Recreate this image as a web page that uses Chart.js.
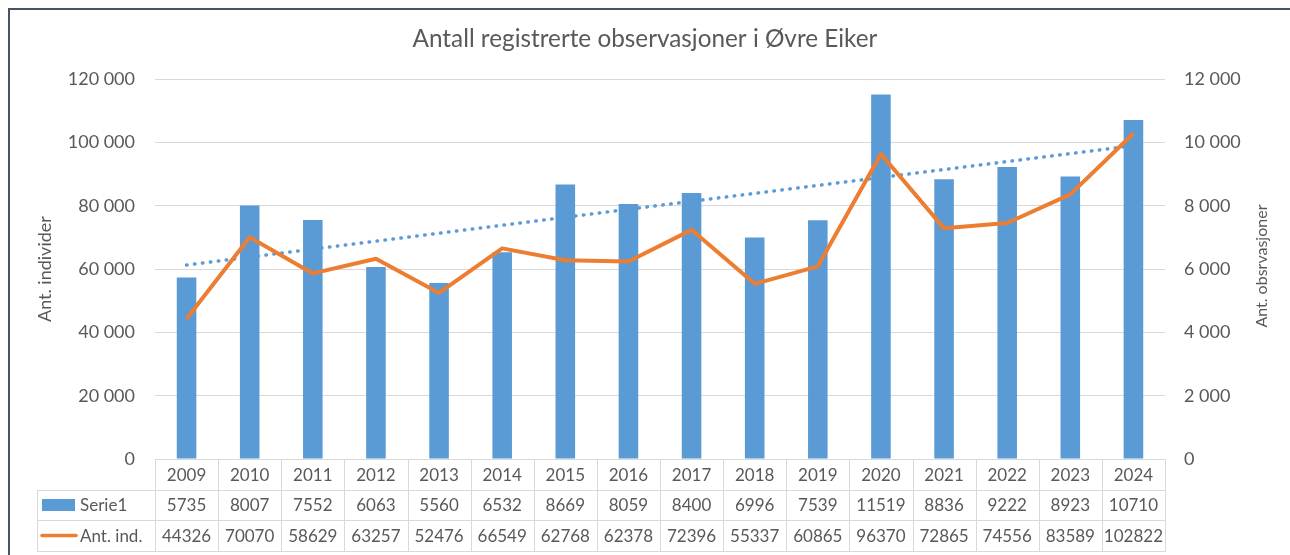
<!DOCTYPE html>
<html>
<head>
<meta charset="utf-8">
<script src="https://cdn.jsdelivr.net/npm/chart.js@4.4.1/dist/chart.umd.min.js"></script>
<style>
  html, body { margin: 0; padding: 0; background: #fff; }
  #wrap { width: 1290px; height: 555px; position: relative; }
</style>
</head>
<body>
<div id="wrap"><canvas id="myChart"></canvas></div>
<script>
const years = ["2009", "2010", "2011", "2012", "2013", "2014", "2015", "2016",
  "2017", "2018", "2019", "2020", "2021", "2022", "2023", "2024"];
const serie1 = [5735, 8007, 7552, 6063, 5560, 6532, 8669, 8059,
  8400, 6996, 7539, 11519, 8836, 9222, 8923, 10710];
const antInd = [44326, 70070, 58629, 63257, 52476, 66549, 62768, 62378,
  72396, 55337, 60865, 96370, 72865, 74556, 83589, 102822];
// linear trendline of Serie1 at both ends
const trend = [6130, null, null, null, null, null, null, null,
  null, null, null, null, null, null, null, 9900];

const textColor = "#595959";
const gridColor = "#D9D9D9";
const blue = "#5B9BD5";
const orange = "#ED7D31";

Chart.defaults.font.family = "Lato";
Chart.defaults.color = textColor;

const fmt = (v) => String(v).replace(/\B(?=(\d{3})+(?!\d))/g, " ");

// frame, right axis title and the data table below the plot
const extras = {
  id: "extras",
  beforeDraw(chart) {
    const { ctx, width, height } = chart;
    ctx.save();
    ctx.fillStyle = "#fff";
    ctx.fillRect(0, 0, width, height);
    ctx.restore();
  },
  afterDraw(chart) {
    const { ctx, chartArea, scales } = chart;
    const x = scales.x;
    const colW = (chartArea.right - chartArea.left) / years.length;
    const r0 = chartArea.bottom;
    const rows = [r0, r0 + 30.5, r0 + 61, r0 + 91.5];
    const legLeft = 37;

    ctx.save();
    ctx.strokeStyle = gridColor;
    ctx.lineWidth = 1;
    ctx.beginPath();
    ctx.moveTo(chartArea.left, Math.round(rows[0]) + 0.5);
    ctx.lineTo(chartArea.right, Math.round(rows[0]) + 0.5);
    for (let i = 1; i < rows.length; i++) {
      ctx.moveTo(legLeft, Math.round(rows[i]) + 0.5);
      ctx.lineTo(chartArea.right, Math.round(rows[i]) + 0.5);
    }
    ctx.moveTo(legLeft + 0.5, Math.round(rows[1]));
    ctx.lineTo(legLeft + 0.5, Math.round(rows[3]) + 1);
    for (let i = 0; i <= years.length; i++) {
      const px = Math.round(x.getPixelForValue(i) - colW / 2) + 0.5;
      ctx.moveTo(px, Math.round(rows[0]));
      ctx.lineTo(px, Math.round(rows[3]) + 1);
    }
    ctx.stroke();

    ctx.fillStyle = textColor;
    ctx.font = "17px Lato";
    ctx.textAlign = "center";
    ctx.textBaseline = "middle";
    years.forEach((y, i) => {
      const cx = x.getPixelForValue(i);
      ctx.fillText(y, cx, (rows[0] + rows[1]) / 2 + 1);
      ctx.fillText(String(serie1[i]), cx, (rows[1] + rows[2]) / 2 + 1);
      ctx.fillText(String(antInd[i]), cx, (rows[2] + rows[3]) / 2 + 1);
    });

    // legend keys
    ctx.fillStyle = blue;
    ctx.fillRect(42, 499, 33, 12);
    ctx.strokeStyle = orange;
    ctx.lineWidth = 3.5;
    ctx.lineCap = "round";
    ctx.beginPath();
    ctx.moveTo(42, 535.5);
    ctx.lineTo(76, 535.5);
    ctx.stroke();
    ctx.fillStyle = textColor;
    ctx.textAlign = "left";
    ctx.fillText("Serie1", 80, (rows[1] + rows[2]) / 2 + 1);
    ctx.fillText("Ant. ind.", 80, (rows[2] + rows[3]) / 2 + 1);

    // right axis title, reading bottom to top
    ctx.translate(1262, (chartArea.top + chartArea.bottom) / 2 - 3);
    ctx.rotate(-Math.PI / 2);
    ctx.font = "16px Lato";
    ctx.textAlign = "center";
    ctx.fillText("Ant. obsrvasjoner", 0, 0);
    ctx.restore();

    // frame
    ctx.save();
    ctx.strokeStyle = "#44546A";
    ctx.lineWidth = 2;
    ctx.beginPath();
    ctx.moveTo(9, chart.height);
    ctx.lineTo(9, 9);
    ctx.lineTo(chart.width, 9);
    ctx.stroke();
    ctx.restore();
  }
};

new Chart(document.getElementById("myChart"), {
  type: "bar",
  data: {
    labels: years,
    datasets: [
      {
        type: "line",
        label: "Ant. ind.",
        data: antInd,
        yAxisID: "y",
        borderColor: orange,
        backgroundColor: orange,
        borderWidth: 4,
        borderJoinStyle: "round",
        pointRadius: 0,
        tension: 0,
        order: 0,
      },
      {
        label: "Serie1",
        data: serie1,
        yAxisID: "y1",
        backgroundColor: blue,
        barPercentage: 0.31,
        categoryPercentage: 1,
        order: 1,
      },
      {
        type: "line",
        label: "Lineær (Serie1)",
        data: trend,
        yAxisID: "y1",
        borderColor: blue,
        borderWidth: 3.5,
        borderDash: [0.5, 7.5],
        borderCapStyle: "round",
        pointRadius: 0,
        spanGaps: true,
        order: 2,
      },
    ],
  },
  options: {
    responsive: true,
    maintainAspectRatio: false,
    animation: false,
    layout: { padding: 0 },
    plugins: {
      legend: { display: false },
      tooltip: { enabled: false },
      title: {
        display: true,
        text: "Antall registrerte observasjoner i Øvre Eiker",
        color: textColor,
        font: { size: 24.3, weight: "normal" },
        padding: { top: 25, bottom: 25 },
      },
    },
    scales: {
      x: {
        ticks: { display: false },
        grid: { display: false },
        border: { display: false },
        afterFit: (s) => { s.height = 96; },
      },
      y: {
        position: "left",
        min: 0,
        max: 120000,
        ticks: { stepSize: 20000, padding: 20, font: { size: 18 }, callback: (v) => fmt(v) },
        grid: { color: gridColor, drawTicks: false },
        border: { display: false },
        title: { display: true, text: "Ant. individer", font: { size: 18 }, padding: { top: 34 } },
        afterFit: (s) => { s.width = 155; },
      },
      y1: {
        position: "right",
        min: 0,
        max: 12000,
        ticks: { stepSize: 2000, padding: 19, font: { size: 18 }, callback: (v) => fmt(v) },
        grid: { drawOnChartArea: false, drawTicks: false },
        border: { display: false },
        afterFit: (s) => { s.width = 125; },
      },
    },
  },
  plugins: [extras],
});
</script>
</body>
</html>
